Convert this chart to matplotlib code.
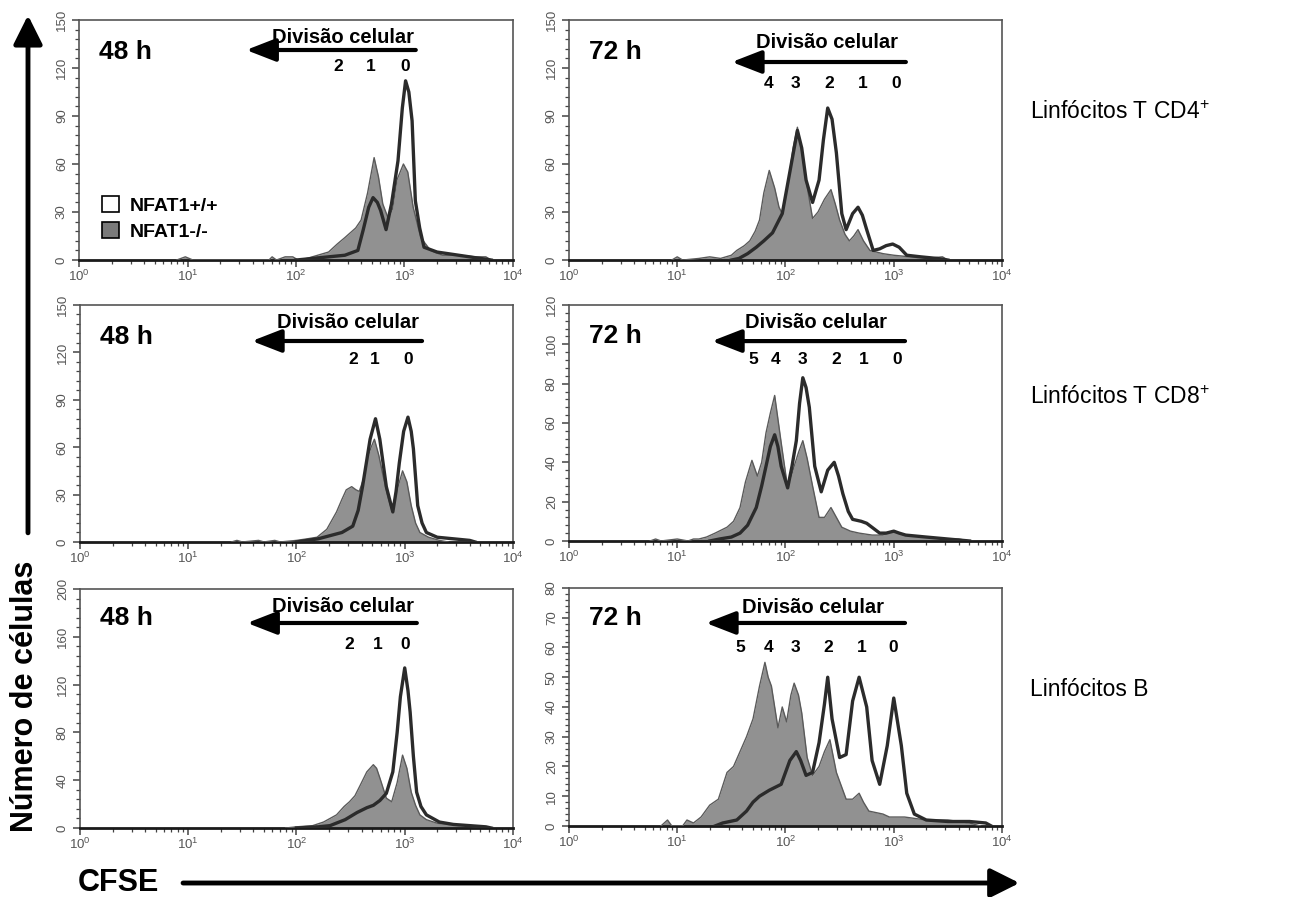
import matplotlib
matplotlib.use('Agg')
import matplotlib.pyplot as plt
from matplotlib.patches import Patch, FancyArrowPatch
from matplotlib.ticker import MultipleLocator, LogLocator, NullFormatter
import numpy as np

plt.rcParams['font.family'] = ['Liberation Sans', 'DejaVu Sans']
plt.rcParams['mathtext.fontset'] = 'custom'
plt.rcParams['mathtext.rm'] = 'Liberation Sans'
plt.rcParams['mathtext.bf'] = 'Liberation Sans:bold'

FILL = '#919191'
LINE = '#2b2b2b'

# --- data: log10(CFSE) positions and cell counts ---
# CD4 48 h
cd4_48_ko_log = [0.9, 0.98, 1.05, 1.75, 1.78, 1.82, 1.9, 1.97, 2.02, 2.1, 2.2, 2.3, 2.38, 2.45,
                 2.5, 2.55, 2.6, 2.66, 2.72, 2.76, 2.8, 2.85, 2.89, 2.93, 2.99, 3.03, 3.08, 3.15,
                 3.24, 3.35, 3.5, 3.65, 3.75, 3.8]
cd4_48_ko_n = [0, 2, 0, 0, 2, 0, 2, 2, 0, 1, 3, 5, 10, 14,
               17, 20, 25, 42, 64, 52, 35, 26, 32, 50, 60, 55, 33, 14,
               6, 3, 3, 2, 2, 0]
cd4_48_wt_log = [2.0, 2.15, 2.3, 2.45, 2.57, 2.62, 2.67, 2.71, 2.75, 2.78, 2.83, 2.88, 2.94, 2.98,
                 3.01, 3.04, 3.07, 3.10, 3.14, 3.18, 3.3, 3.5, 3.7, 3.8]
cd4_48_wt_n = [0, 1, 2, 3, 6, 19, 33, 39, 36, 31, 19, 35, 62, 95,
               112, 105, 87, 37, 20, 8, 5, 3, 1, 0]

# CD4 72 h
cd4_72_ko_log = [0.95, 1.0, 1.05, 1.2, 1.3, 1.4, 1.5, 1.55, 1.62, 1.67, 1.72, 1.76, 1.8, 1.85,
                 1.9, 1.94, 1.97, 2.02, 2.07, 2.11, 2.15, 2.19, 2.25, 2.3, 2.36, 2.42, 2.46, 2.5,
                 2.55, 2.59, 2.63, 2.67, 2.72, 2.78, 2.9, 3.0, 3.15, 3.3, 3.45, 3.5]
cd4_72_ko_n = [0, 2, 0, 1, 2, 1, 3, 6, 9, 12, 18, 25, 42, 56,
               45, 33, 29, 45, 70, 83, 68, 50, 26, 30, 38, 44, 35, 25,
               16, 12, 15, 19, 12, 6, 4, 3, 2, 1, 2, 0]
cd4_72_wt_log = [1.5, 1.57, 1.65, 1.73, 1.8, 1.88, 1.97, 2.04, 2.11, 2.15, 2.19, 2.25, 2.31, 2.35,
                 2.39, 2.43, 2.47, 2.52, 2.56, 2.62, 2.67, 2.71, 2.75, 2.81, 2.87, 2.93, 2.99, 3.05,
                 3.12, 3.25, 3.4, 3.5]
cd4_72_wt_n = [0, 1, 4, 8, 12, 17, 29, 55, 81, 70, 50, 36, 50, 75,
               95, 88, 67, 29, 19, 29, 33, 28, 19, 6, 7, 9, 10, 8,
               3, 2, 1, 0]

# CD8 48 h
cd8_48_ko_log = [1.4, 1.45, 1.5, 1.65, 1.7, 1.8, 1.85, 2.0, 2.1, 2.19, 2.28, 2.37, 2.42, 2.46,
                 2.51, 2.55, 2.58, 2.62, 2.65, 2.69, 2.72, 2.76, 2.8, 2.84, 2.88, 2.93, 2.98, 3.02,
                 3.06, 3.1, 3.14, 3.22, 3.32, 3.4]
cd8_48_ko_n = [0, 1, 0, 1, 0, 1, 0, 1, 2, 3, 8, 19, 27, 33,
               35, 33, 32, 40, 52, 60, 65, 55, 42, 30, 20, 33, 45, 38,
               23, 12, 6, 3, 1, 0]
cd8_48_wt_log = [2.0, 2.2, 2.31, 2.42, 2.52, 2.57, 2.61, 2.65, 2.68, 2.73, 2.77, 2.8, 2.83, 2.89,
                 2.92, 2.95, 2.99, 3.03, 3.06, 3.08, 3.12, 3.16, 3.2, 3.3, 3.45, 3.6, 3.65]
cd8_48_wt_n = [0, 2, 4, 6, 10, 20, 35, 52, 65, 78, 65, 50, 35, 19,
               32, 50, 70, 79, 70, 59, 23, 12, 6, 3, 2, 1, 0]

# CD8 72 h
cd8_72_ko_log = [0.75, 0.8, 0.85, 1.0, 1.1, 1.15, 1.2, 1.27, 1.35, 1.46, 1.52, 1.58, 1.63, 1.69,
                 1.74, 1.78, 1.82, 1.86, 1.9, 1.93, 1.96, 2.02, 2.08, 2.12, 2.16, 2.2, 2.25, 2.31,
                 2.36, 2.42, 2.47, 2.52, 2.6, 2.68, 2.8, 2.9, 2.99, 3.1, 3.3, 3.5, 3.6, 3.7]
cd8_72_ko_n = [0, 1, 0, 1, 0, 1, 1, 2, 4, 7, 10, 17, 30, 41,
               33, 40, 55, 65, 74, 62, 50, 27, 38, 45, 51, 42, 28, 12,
               12, 17, 12, 7, 5, 4, 3, 3, 5, 3, 2, 1, 1, 0]
cd8_72_wt_log = [1.3, 1.39, 1.5, 1.58, 1.65, 1.73, 1.78, 1.82, 1.86, 1.9, 1.93, 1.96, 2.02, 2.06,
                 2.1, 2.13, 2.16, 2.19, 2.22, 2.27, 2.33, 2.39, 2.45, 2.49, 2.53, 2.58, 2.62, 2.7,
                 2.75, 2.87, 2.93, 3.0, 3.05, 3.11, 3.3, 3.5, 3.7]
cd8_72_wt_n = [0, 1, 2, 4, 8, 17, 28, 38, 48, 54, 48, 38, 27, 38,
               51, 70, 83, 78, 68, 38, 25, 36, 40, 33, 24, 15, 11, 10,
               9, 4, 4, 5, 4, 3, 2, 1, 0]

# B 48 h
b_48_ko_log = [1.9, 2.0, 2.15, 2.25, 2.37, 2.44, 2.49, 2.54, 2.59, 2.65, 2.71, 2.74, 2.77, 2.83,
               2.88, 2.93, 2.98, 3.02, 3.06, 3.1, 3.14, 3.2, 3.3, 3.5, 3.7, 3.8]
b_48_ko_n = [0, 1, 2, 5, 11, 18, 22, 27, 36, 47, 53, 50, 42, 25,
             22, 38, 61, 50, 30, 19, 11, 7, 4, 2, 1, 0]
b_48_wt_log = [2.0, 2.2, 2.31, 2.45, 2.56, 2.65, 2.71, 2.77, 2.83, 2.89, 2.93, 2.96, 3.0, 3.03,
               3.05, 3.08, 3.11, 3.15, 3.2, 3.32, 3.45, 3.6, 3.75, 3.8]
b_48_wt_n = [0, 1, 2, 7, 13, 17, 19, 23, 29, 47, 80, 110, 134, 115,
             97, 60, 30, 18, 11, 5, 3, 2, 1, 0]

# B 72 h
b_72_ko_log = [0.85, 0.91, 0.95, 1.05, 1.09, 1.15, 1.22, 1.3, 1.38, 1.46, 1.52, 1.58, 1.64, 1.7,
               1.76, 1.81, 1.84, 1.87, 1.93, 1.97, 2.01, 2.05, 2.08, 2.12, 2.15, 2.2, 2.25, 2.31,
               2.36, 2.41, 2.47, 2.56, 2.62, 2.68, 2.72, 2.77, 2.9, 2.96, 3.1, 3.3, 3.5, 3.7, 3.8]
b_72_ko_n = [0, 2, 0, 0, 2, 1, 3, 7, 9, 18, 20, 25, 30, 36,
             47, 55, 50, 47, 33, 40, 35, 44, 48, 44, 38, 23, 17, 20,
             25, 29, 18, 9, 9, 11, 8, 5, 4, 3, 3, 2, 2, 1, 0]
b_72_wt_log = [1.35, 1.42, 1.55, 1.64, 1.7, 1.76, 1.85, 1.96, 2.04, 2.1, 2.14, 2.19, 2.25, 2.31,
               2.36, 2.39, 2.43, 2.5, 2.56, 2.62, 2.68, 2.75, 2.8, 2.87, 2.94, 3.0, 3.07, 3.12,
               3.19, 3.3, 3.5, 3.7, 3.85, 3.9]
b_72_wt_n = [0, 1, 2, 5, 8, 10, 12, 14, 22, 25, 22, 17, 18, 28,
             41, 50, 36, 23, 24, 42, 50, 40, 22, 14, 27, 43, 27, 11,
             4, 2, 1.5, 1.5, 1, 0]

row_labels = ['Linfócitos T CD4$^{+}$', 'Linfócitos T CD8$^{+}$', 'Linfócitos B']
legend_labels = ['NFAT1+/+', 'NFAT1-/-']

# panel layout: rect, data, ymax, major, minor, time label, text positions (axes fraction)
panels = [
    dict(rect=[0.0607, 0.7101, 0.3333, 0.2676], ko=(cd4_48_ko_log, cd4_48_ko_n),
         wt=(cd4_48_wt_log, cd4_48_wt_n), ymax=150, major=30, minor=6, time='48 h', ty=0.867,
         div=(0.608, 0.929), arrow=(0.776, 0.385, 0.875), ny=0.808,
         nums=['2', '1', '0'], nx=[0.597, 0.673, 0.751]),
    dict(rect=[0.4370, 0.7101, 0.3326, 0.2676], ko=(cd4_72_ko_log, cd4_72_ko_n),
         wt=(cd4_72_wt_log, cd4_72_wt_n), ymax=150, major=30, minor=6, time='72 h', ty=0.867,
         div=(0.596, 0.908), arrow=(0.778, 0.376, 0.825), ny=0.737,
         nums=['4', '3', '2', '1', '0'], nx=[0.46, 0.524, 0.60, 0.679, 0.755]),
    dict(rect=[0.0614, 0.3958, 0.3326, 0.2642], ko=(cd8_48_ko_log, cd8_48_ko_n),
         wt=(cd8_48_wt_log, cd8_48_wt_n), ymax=150, major=30, minor=6, time='48 h', ty=0.865,
         div=(0.619, 0.924), arrow=(0.79, 0.397, 0.848), ny=0.768,
         nums=['2', '1', '0'], nx=[0.63, 0.68, 0.758]),
    dict(rect=[0.4370, 0.3969, 0.3326, 0.2631], ko=(cd8_72_ko_log, cd8_72_ko_n),
         wt=(cd8_72_wt_log, cd8_72_wt_n), ymax=120, major=20, minor=4, time='72 h', ty=0.869,
         div=(0.570, 0.924), arrow=(0.776, 0.33, 0.847), ny=0.767,
         nums=['5', '4', '3', '2', '1', '0'], nx=[0.425, 0.476, 0.54, 0.617, 0.681, 0.757]),
    dict(rect=[0.0614, 0.0769, 0.3326, 0.2664], ko=(b_48_ko_log, b_48_ko_n),
         wt=(b_48_wt_log, b_48_wt_n), ymax=200, major=40, minor=8, time='48 h', ty=0.879,
         div=(0.607, 0.929), arrow=(0.778, 0.386, 0.858), ny=0.766,
         nums=['2', '1', '0'], nx=[0.621, 0.688, 0.75]),
    dict(rect=[0.4370, 0.0792, 0.3326, 0.2653], ko=(b_72_ko_log, b_72_ko_n),
         wt=(b_72_wt_log, b_72_wt_n), ymax=80, major=10, minor=2, time='72 h', ty=0.874,
         div=(0.564, 0.92), arrow=(0.776, 0.316, 0.853), ny=0.752,
         nums=['5', '4', '3', '2', '1', '0'], nx=[0.395, 0.46, 0.522, 0.598, 0.677, 0.748]),
]

fig = plt.figure(figsize=(13.02, 8.97), dpi=100)

for i, p in enumerate(panels):
    ax = fig.add_axes(p['rect'])
    ko_x = 10 ** np.asarray(p['ko'][0])
    wt_x = 10 ** np.asarray(p['wt'][0])
    ax.fill_between(ko_x, p['ko'][1], color=FILL, lw=0, zorder=2)
    ax.plot(ko_x, p['ko'][1], color='#5a5a5a', lw=1.0, zorder=3)
    ax.plot(wt_x, p['wt'][1], color=LINE, lw=2.4, zorder=4, solid_joinstyle='round')

    ax.set_xscale('log')
    ax.set_xlim(1, 1e4)
    ax.set_ylim(0, p['ymax'])
    ax.xaxis.set_major_locator(LogLocator(base=10, numticks=10))
    ax.xaxis.set_minor_locator(LogLocator(base=10, subs=np.arange(2, 10), numticks=20))
    ax.xaxis.set_minor_formatter(NullFormatter())
    ax.yaxis.set_major_locator(MultipleLocator(p['major']))
    ax.yaxis.set_minor_locator(MultipleLocator(p['minor']))

    ax.tick_params(which='major', direction='out', length=5, width=1.1, color='#444444',
                   labelcolor='#555555', labelsize=9.5)
    ax.tick_params(which='minor', direction='out', length=3, width=0.9, color='#444444')
    ax.tick_params(axis='y', pad=3)
    ax.tick_params(axis='x', pad=1.5)
    plt.setp(ax.get_yticklabels(), rotation=90, va='center', ha='right')

    for s in ['top', 'right', 'left']:
        ax.spines[s].set_color('#555555')
        ax.spines[s].set_linewidth(1.2)
    ax.spines['bottom'].set_color('#1a1a1a')
    ax.spines['bottom'].set_linewidth(2)

    ax.text(0.046, p['ty'], p['time'], transform=ax.transAxes, fontsize=19,
            fontweight='bold', ha='left', va='center')
    ax.text(p['div'][0], p['div'][1], 'Divisão celular', transform=ax.transAxes,
            fontsize=14.5, fontweight='bold', ha='center', va='center')
    x_tail, x_tip, ya = p['arrow']
    ax.annotate('', xy=(x_tip, ya), xytext=(x_tail, ya), xycoords='axes fraction',
                arrowprops=dict(arrowstyle='-|>,head_length=0.9,head_width=0.35', lw=3,
                                color='black', shrinkA=0, shrinkB=0, mutation_scale=20))
    for lab, nx in zip(p['nums'], p['nx']):
        ax.text(nx, p['ny'], lab, transform=ax.transAxes, fontsize=12.5,
                fontweight='bold', ha='center', va='center')

    if i == 0:
        handles = [Patch(facecolor='white', edgecolor='black', lw=1.2),
                   Patch(facecolor='#7a7a7a', edgecolor='black', lw=1.2)]
        ax.legend(handles, legend_labels, loc='lower left', bbox_to_anchor=(0.03, 0.04),
                  frameon=False, borderpad=0, handlelength=0.9, handleheight=0.9,
                  handletextpad=0.55, labelspacing=0.35,
                  prop={'weight': 'bold', 'size': 14})

# row labels
for lab, y in zip(row_labels, [0.875, 0.557, 0.231]):
    fig.text(0.791, y, lab, fontsize=16.5, ha='left', va='center')

# axis titles with long arrows
fig.text(0.0195, 0.224, 'Número de células', rotation=90, fontsize=22,
         fontweight='bold', ha='center', va='center')
fig.text(0.06, 0.0156, 'CFSE', fontsize=22, fontweight='bold', ha='left', va='center')
fig.add_artist(FancyArrowPatch(
    (0.0215, 0.406), (0.0215, 0.983), transform=fig.transFigure,
    arrowstyle='-|>,head_length=0.8,head_width=0.4', mutation_scale=22, lw=3.5,
    color='black', shrinkA=0, shrinkB=0))
fig.add_artist(FancyArrowPatch(
    (0.1406, 0.0156), (0.783, 0.0156), transform=fig.transFigure,
    arrowstyle='-|>,head_length=0.8,head_width=0.4', mutation_scale=22, lw=3.5,
    color='black', shrinkA=0, shrinkB=0))

fig.savefig('out.png', dpi=100)
